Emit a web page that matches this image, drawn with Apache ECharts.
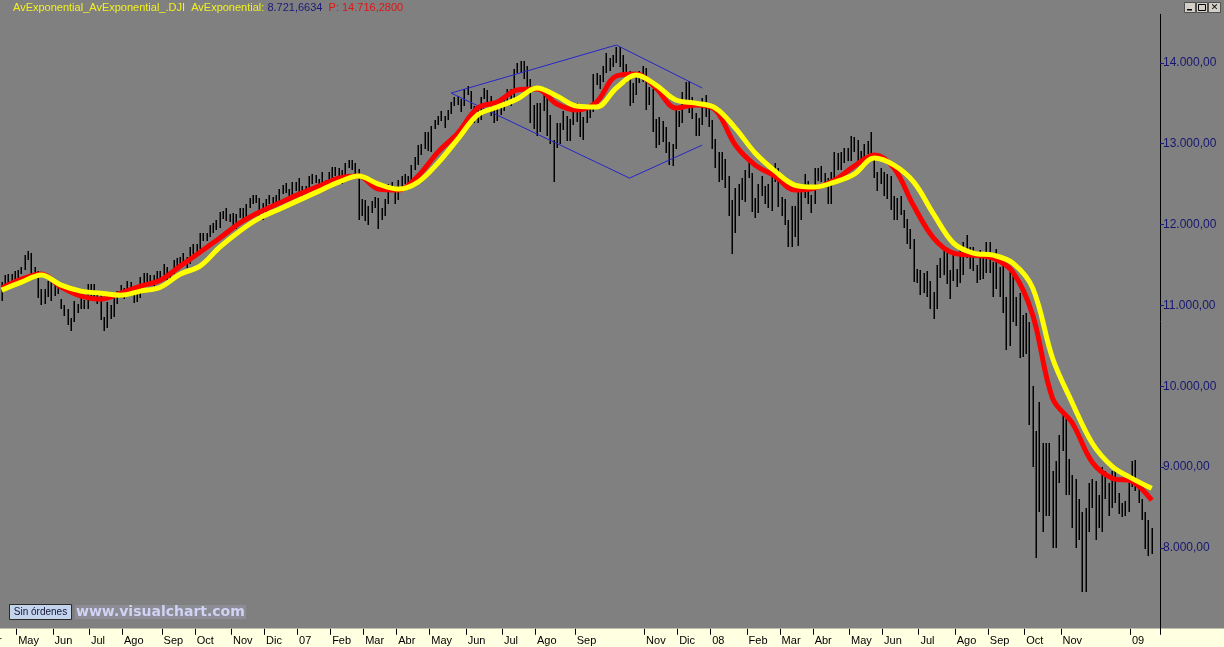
<!DOCTYPE html>
<html><head><meta charset="utf-8">
<script src="https://cdn.jsdelivr.net/npm/echarts@6.0.0/dist/echarts.min.js"></script>
<style>html,body{margin:0;padding:0;background:#808080}#c{width:1224px;height:647px}</style>
</head><body><div id="c"></div>
<script>
// ---- tick labels (one per month) and number of 2-day bars in each month ----
const monthLabels = ['Abr','May','Jun','Jul','Ago','Sep','Oct','Nov','Dic',
  '07','Feb','Mar','Abr','May','Jun','Jul','Ago','Sep','','Nov','Dic',
  '08','Feb','Mar','Abr','May','Jun','Jul','Ago','Sep','Oct','Nov','',
  '09'];
const barsPerMonth = [5,11,11,10,12,10,11,10,10,
  10,10,10,10,11,11,10,12,9,12,10,10,
  11,10,10,11,10,11,11,10,11,11,10,11,
  7];
const padBars = 2;

// ---- .DJI price bars (low / high), two sessions per bar ----
const barLow = [
 11060,11220,11270,11240,11300,
 11300,11390,11440,11560,11360,11340,11090,11000,11020,11100,11060,
 11120,11140,10950,10870,10760,10680,10800,10900,10950,10960,10960,
 11100,11050,11020,10820,10680,10720,10830,10860,11020,11090,
 11080,11120,11120,11030,11040,11090,11270,11290,11240,11240,11300,11340,
 11370,11300,11320,11390,11480,11500,11490,11460,11510,11640,
 11620,11700,11800,11800,11840,11900,11930,11960,12070,12040,12030,
 11970,11950,12080,12060,12080,12200,12260,12270,12100,12060,
 12120,12250,12230,12250,12280,12380,12390,12290,12320,12420,
 12380,12340,12360,12400,12500,12510,12420,12480,12430,12450,
 12580,12600,12580,12500,12540,12700,12680,12600,12050,12100,
 12040,12000,12140,12200,11940,12050,12100,12260,12400,12250,
 12300,12480,12500,12430,12520,12680,12730,12860,12940,12910,
 12900,13180,13230,13280,13190,13290,13370,13460,13480,13390,13460,
 13600,13430,13250,13260,13290,13550,13460,13340,13250,13280,13350,
 13400,13530,13460,13560,13870,13880,13800,13680,13250,13180,
 13100,13150,13400,13100,13000,12520,12950,13000,13170,13030,13030,13230,
 13270,13080,13050,13250,13320,13390,13720,13680,13760,
 13880,13900,13950,14000,13950,13850,13750,13460,13500,13600,13750,13760,
 13420,13480,13150,12950,12980,13020,12880,12740,12720,12940,
 13200,13250,13530,13380,13300,13100,13100,13230,13330,13200,
 12940,12700,12530,12550,12450,12100,11640,11900,12100,12300,12280,
 12580,12150,12080,12140,12350,12250,12200,12170,12520,12220,
 12100,12000,11720,11720,11850,11730,12050,12330,12250,12140,
 12250,12540,12520,12450,12250,12260,12550,12680,12680,12760,12780,
 12780,12900,12780,12700,12780,12870,12800,12570,12420,12500,
 12350,12320,12180,12050,12050,12120,11960,11760,11700,11290,11280,
 11130,11150,11100,10960,10830,10950,11340,11380,11270,11080,11300,
 11230,11280,11380,11580,11450,11420,11280,11320,11330,11400,
 11400,11100,11200,11100,10900,10450,10500,10800,10750,10350,10360,
 10400,9520,9000,7880,8450,8200,8400,8400,8000,8000,8800,
 9200,8650,8650,8250,8000,8100,7450,7450,8200,8500,
 8100,8250,8200,8600,8400,8500,8550,8420,8380,8400,8450,
 8750,8700,8550,8350,7990,7900,7920
];
const barHigh = [
 11290,11370,11390,11390,11420,
 11440,11480,11620,11670,11650,11470,11430,11200,11200,11300,11290,
 11300,11290,11080,11000,10950,10850,11050,11020,11110,11070,11260,
 11270,11260,11180,11140,10860,11040,11010,11130,11180,11250,
 11220,11300,11290,11220,11170,11350,11400,11400,11370,11380,11420,11420,
 11510,11480,11430,11560,11590,11600,11650,11600,11720,11760,
 11760,11900,11900,11900,11990,12020,12050,12150,12170,12200,12130,
 12140,12130,12210,12200,12260,12330,12360,12370,12330,12270,
 12320,12370,12340,12360,12440,12490,12510,12440,12530,12530,
 12580,12480,12480,12600,12620,12610,12560,12650,12550,12650,
 12710,12710,12700,12680,12760,12800,12800,12760,12690,12310,
 12300,12230,12290,12340,12330,12200,12310,12500,12520,12450,
 12550,12600,12620,12600,12740,12830,12980,12990,13140,13150,
 13220,13290,13340,13400,13340,13420,13520,13580,13590,13550,13680,
 13710,13650,13460,13460,13580,13690,13660,13590,13430,13460,13530,
 13600,13680,13680,13920,14000,14020,14020,13960,13800,13480,
 13500,13500,13700,13650,13350,13050,13250,13260,13400,13340,13300,13420,
 13500,13400,13330,13460,13480,13860,13870,13850,13960,
 14120,14060,14100,14200,14200,14100,13980,13900,13750,13850,13900,13960,
 13930,13700,13680,13300,13330,13280,13200,13020,13000,13430,
 13400,13640,13760,13780,13580,13380,13320,13570,13600,13450,
 13290,13060,12900,12900,12810,12600,12300,12450,12500,12580,12680,
 12780,12640,12330,12500,12600,12480,12500,12620,12760,12700,
 12340,12320,12060,12230,12230,12420,12420,12620,12540,12360,
 12700,12700,12720,12640,12580,12650,12900,12880,12900,12950,12950,
 13100,13080,13050,12910,13000,13030,13140,12850,12650,12700,
 12650,12630,12600,12350,12330,12350,12180,12070,11950,11820,11450,
 11440,11400,11420,11300,11160,11500,11580,11720,11650,11440,11640,
 11450,11720,11780,11870,11720,11720,11500,11680,11640,11790,
 11790,11540,11700,11480,11500,11100,11480,11400,11100,11150,10880,
 10900,10800,10000,9450,9800,9300,9300,9300,8950,9080,9400,
 9650,9600,9100,8900,8850,8600,8450,8500,8800,8850,
 8830,8650,9000,8950,8800,8950,8950,8680,8560,8580,8800,
 9070,9090,8800,8600,8450,8350,8250
];

// ---- the two exponential averages, read at every 6th bar ----
const emaIndex = [0,6,12,18,24,30,36,42,48,54,60,66,72,78,84,90,96,102,108,114,
  120,126,132,138,144,150,156,162,168,174,180,186,192,198,204,210,216,222,228,234,
  240,246,252,258,264,270,276,282,288,294,300,306,312,318,324,330,336,342,348];
const emaFast = [11213,11324,11387,11225,11114,11077,11151,11238,11312,11485,
  11658,11832,12017,12153,12265,12376,12475,12574,12599,12438,
  12426,12599,12896,13131,13441,13515,13663,13676,13490,13416,
  13515,13837,13861,13688,13441,13478,13416,12983,12735,12599,
  12426,12450,12549,12722,12859,12698,12228,11832,11646,11621,
  11584,11411,10879,9851,9542,9059,8861,8824,8589];
const emaSlow = [11188,11287,11375,11250,11176,11151,11126,11176,11225,11386,
  11485,11720,11918,12079,12190,12302,12413,12525,12599,12500,
  12438,12525,12760,13057,13354,13453,13552,13688,13589,13465,
  13453,13688,13849,13725,13540,13502,13441,13193,12884,12661,
  12488,12463,12525,12624,12822,12735,12525,12129,11770,11646,
  11621,11522,11213,10346,9790,9295,9010,8861,8737];

// ---- hand-drawn trend lines (bar index, price) ----
const trendUpper = [[136,13626],[186,14220],[212,13688]];
const trendLower = [[136,13626],[190,12574],[212,12983]];

const lastValue = 8116.03;
const headerValue = 8721.6634;
const headerP = 14716.28;

// ---- build axis categories from the arrays ----
const categories = [], tickShown = [], labelShown = [];
monthLabels.forEach((lab, m) => {
  for (let k = 0; k < barsPerMonth[m]; k++) {
    categories.push(lab + '|' + categories.length);
    const first = k === 0 && lab !== '';
    labelShown.push(first);
    tickShown.push(first && categories.length > 1);
  }
});
for (let p = 0; p < padBars; p++) { categories.push('|' + categories.length); tickShown.push(false); labelShown.push(false); }

function fmt(v, d) {
  const s = v.toFixed(d).split('.');
  return s[0].replace(/\B(?=(\d{3})+(?!\d))/g, '.') + ',' + s[1];
}

const chart = echarts.init(document.getElementById('c'), null, {renderer: 'canvas'});
const FONT = 'Liberation Sans, Arial, sans-serif';
chart.setOption({
  animation: false,
  backgroundColor: '#808080',
  title: {
    left: 13, top: 2, padding: 0,
    text: '{y|AvExponential_AvExponential_.DJI  AvExponential: }{b|' + fmt(headerValue, 4) + '}{r|  P: ' + fmt(headerP, 4) + '}',
    textStyle: {
      fontSize: 11, fontFamily: FONT, fontWeight: 'normal',
      rich: {
        y: {color: '#f2f020', fontSize: 11, fontFamily: FONT},
        b: {color: '#1a1a78', fontSize: 11, fontFamily: FONT},
        r: {color: '#e01414', fontSize: 11, fontFamily: FONT}
      }
    }
  },
  grid: {left: 0, right: 64, top: 14.3, bottom: 18.2, containLabel: false, outerBoundsMode: 'none'},
  xAxis: {
    type: 'category', data: categories, boundaryGap: true,
    axisLine: {show: false},
    axisTick: {show: true, length: 6, interval: (i) => tickShown[i], lineStyle: {color: '#000', width: 1}},
    axisLabel: {
      interval: (i) => labelShown[i], formatter: (v) => v.split('|')[0],
      align: 'left', margin: 7, color: '#000', fontSize: 11, fontFamily: FONT,
      alignMinLabel: 'right', hideOverlap: false
    },
    splitLine: {show: false}
  },
  yAxis: {
    type: 'value', position: 'right', min: 7000, max: 14600, interval: 1000,
    axisLine: {show: true, lineStyle: {color: '#000', width: 1}},
    axisTick: {show: true, length: 4, lineStyle: {color: '#1a1a78'}},
    axisLabel: {
      showMinLabel: false, showMaxLabel: false, margin: 3,
      color: '#161670', fontSize: 12, fontFamily: FONT,
      formatter: (v) => fmt(v, 2)
    },
    splitLine: {show: false}
  },
  graphic: [
    {type: 'rect', z: -10, shape: {x: 0, y: 628.5, width: 1224, height: 19}, style: {fill: '#ffffe1'}},
    {type: 'rect', shape: {x: 9.5, y: 604.5, width: 62, height: 15}, style: {fill: '#c4d4ec', stroke: '#2a2a2a', lineWidth: 1}},
    {type: 'text', x: 40.5, y: 612.5, style: {text: 'Sin órdenes', fill: '#141438', fontSize: 10, fontFamily: FONT, align: 'center', verticalAlign: 'middle'}},
    {type: 'rect', shape: {x: 75, y: 605, width: 171, height: 14}, style: {fill: '#8c8c94'}},
    {type: 'text', x: 76, y: 612, style: {text: 'www.visualchart.com', fill: '#d2d2f4', fontSize: 14, fontWeight: 'bold', fontFamily: 'DejaVu Sans, Verdana, sans-serif', align: 'left', verticalAlign: 'middle'}},
    {type: 'rect', shape: {x: 1184.5, y: 2.5, width: 11, height: 10}, style: {fill: '#d4d0c8', stroke: '#505050'}},
    {type: 'rect', shape: {x: 1196.5, y: 2.5, width: 11, height: 10}, style: {fill: '#d4d0c8', stroke: '#505050'}},
    {type: 'rect', shape: {x: 1208.5, y: 2.5, width: 12, height: 10}, style: {fill: '#d4d0c8', stroke: '#505050'}},
    {type: 'rect', shape: {x: 1187, y: 9, width: 5, height: 1.5}, style: {fill: '#000'}},
    {type: 'rect', shape: {x: 1198.5, y: 4.5, width: 7, height: 6}, style: {fill: 'none', stroke: '#000', lineWidth: 1}},
    {type: 'text', x: 1214.5, y: 8, style: {text: '✕', fill: '#000', fontSize: 9, fontFamily: 'DejaVu Sans', align: 'center', verticalAlign: 'middle'}}
  ],
  series: [
    {
      type: 'custom', name: 'DJI', clip: true,
      data: barLow.map((l, i) => [i, l, barHigh[i]]),
      encode: {x: 0, y: [1, 2]},
      renderItem: (params, api) => {
        const lo = api.coord([api.value(0), api.value(1)]);
        const hi = api.coord([api.value(0), api.value(2)]);
        const cx = Math.round(lo[0]) + 0.25;
        return {type: 'line', shape: {x1: cx, y1: Math.round(lo[1]), x2: cx, y2: Math.round(hi[1])},
          style: {stroke: '#000', lineWidth: 1.5}};
      },
      z: 2
    },
    {
      type: 'line', name: 'trendUpper', data: trendUpper, symbol: 'none',
      lineStyle: {color: '#2626c8', width: 1}, z: 3
    },
    {
      type: 'line', name: 'trendLower', data: trendLower, symbol: 'none',
      lineStyle: {color: '#2626c8', width: 1}, z: 3
    },
    {
      type: 'line', name: 'fast', data: emaIndex.map((x, i) => [x, emaFast[i]]),
      symbol: 'none', smooth: 0.35, lineStyle: {color: '#ff0000', width: 5}, z: 4
    },
    {
      type: 'line', name: 'slow', data: emaIndex.map((x, i) => [x, emaSlow[i]]),
      symbol: 'none', smooth: 0.35, lineStyle: {color: '#ffff00', width: 5}, z: 5,
      markLine: {
        silent: true, symbol: 'none', animation: false,
        lineStyle: {opacity: 0},
        data: [{yAxis: lastValue}],
        label: {
          show: true, position: 'end', distance: 7, formatter: () => fmt(lastValue, 2),
          backgroundColor: '#ffffc4', borderColor: '#000', borderWidth: 1,
          padding: [2, 2, 1, 2], color: '#000', fontSize: 12, fontFamily: FONT
        }
      }
    }
  ]
});
</script></body></html>
